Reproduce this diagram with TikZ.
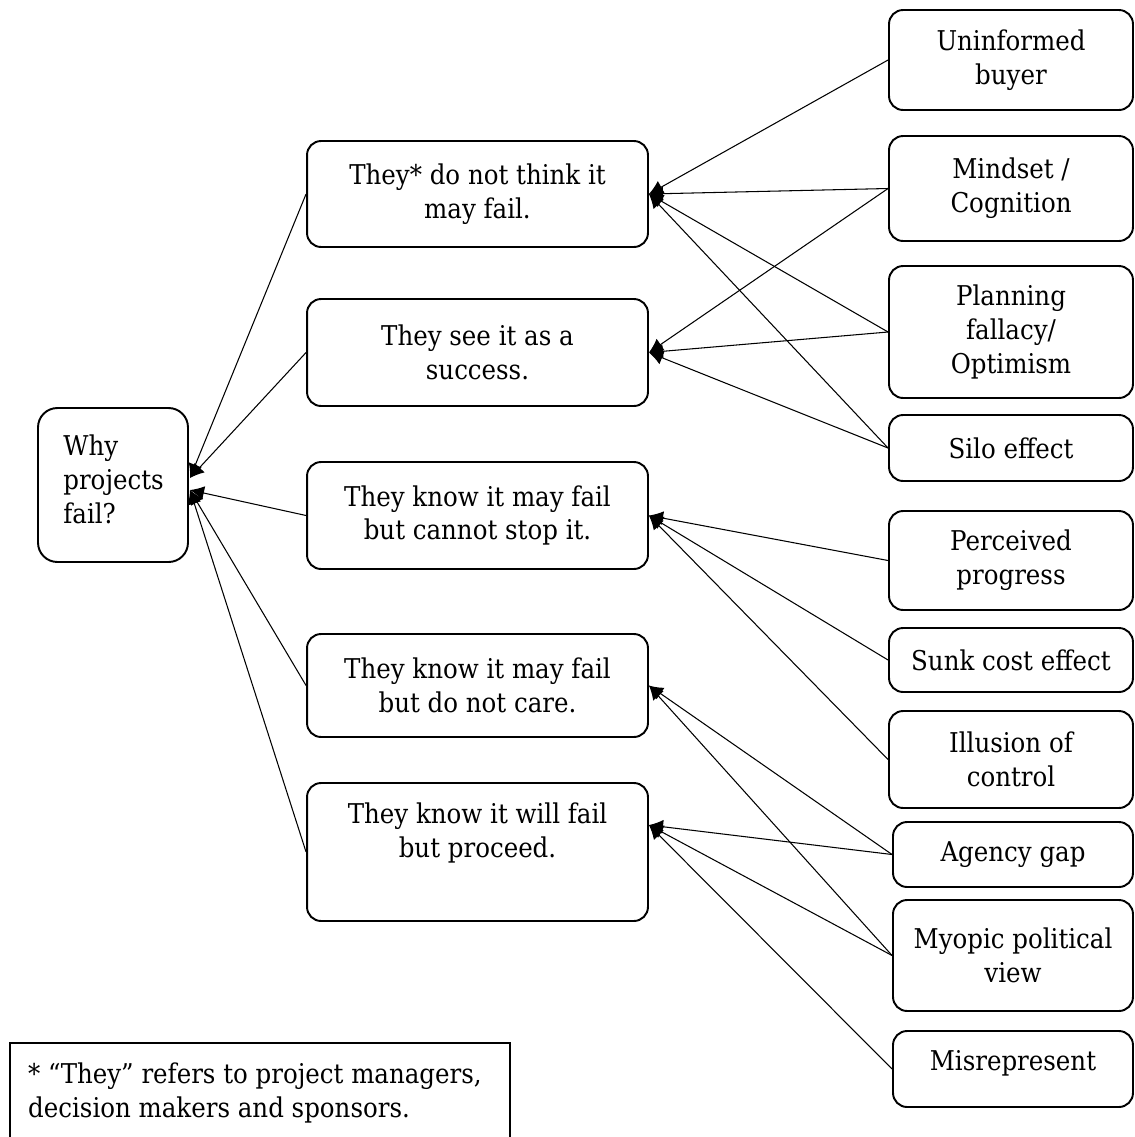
\documentclass[tikz,border=0pt]{standalone}
\usepackage{fontspec}
\setmainfont{DejaVu Serif Condensed}
\usetikzlibrary{arrows.meta,calc}
\begin{document}
\begin{tikzpicture}[x=0.02cm,y=-0.02cm,
  txt/.style={font=\fontsize{15.5pt}{19.3pt}\selectfont, align=center},
  box/.style={txt, draw, line width=1.1pt, rounded corners=8pt, inner sep=0pt},
  mid/.style={box, minimum width=6.82cm},
  cause/.style={box, minimum width=4.88cm},
  causelow/.style={box, minimum width=4.8cm},
  link/.style={line width=0.6pt},
  arr/.style={link, -{Latex[length=8pt,width=8pt]}}]
\useasboundingbox (0,0) rectangle (1135,1137);
\clip (0,0) rectangle (1135,1137);

% root question
\node[box, minimum width=3cm, minimum height=3.08cm, rounded corners=11pt] (why) at (113,485) {};
\node[txt, text width=2cm, align=left, anchor=west, inner sep=0pt] (whytext) at (63,479) {Why\\projects\\fail?};

% middle level: the five reasons
\node[mid, minimum height=2.12cm] (a) at (477.5,194) {They* do not think it\\may fail.};
\node[mid, minimum height=2.14cm] (b) at (477.5,352.5) {They see it as a\\success.};
\node[mid, minimum height=2.14cm] (c) at (477.5,515.5) {They know it may fail\\but cannot stop it.};
\node[mid, minimum height=2.06cm] (d) at (477.5,685.5) {They know it may fail\\but do not care.};
\node[mid, minimum height=2.76cm] (e) at (477.5,852) {};
\node[txt] (etext) at ($(e.north)+(0,51)$) {They know it will fail\\but proceed.};

% right column: underlying causes
\node[cause, minimum height=2.0cm]  (u)  at (1011,60)    {Uninformed\\buyer};
\node[cause, minimum height=2.1cm]  (m)  at (1011,188.5) {Mindset /\\Cognition};
\node[cause, minimum height=2.64cm] (p)  at (1011,332)   {Planning\\fallacy/\\Optimism};
\node[cause, minimum height=1.32cm] (s)  at (1011,448)   {Silo effect};
\node[cause, minimum height=1.98cm] (pp) at (1011,560.5) {Perceived\\progress};
\node[cause, minimum height=1.28cm] (sc) at (1011,660)   {Sunk cost effect};
\node[cause, minimum height=1.94cm] (ic) at (1011,759.5) {Illusion of\\control};
\node[causelow, minimum height=1.3cm]  (ag) at (1013,854.5) {Agency gap};
\node[causelow, minimum height=2.22cm] (my) at (1013,955.5) {Myopic political\\view};
\node[causelow, minimum height=1.52cm] (mr) at (1013,1069)  {};
\node[txt] (mrtext) at (1013,1063) {Misrepresent};

% reasons feed the root question
\coordinate (whyup)  at ($(why.east)+(1,-7)$);
\coordinate (whylow) at ($(why.east)+(1,5)$);
\draw[arr] (a.west) -- (whyup);
\draw[arr] (b.west) -- (whyup);
\draw[arr] (c.west) -- (whylow);
\draw[arr] (d.west) -- (whylow);
\draw[arr] (e.west) -- (whylow);

% causes feed the reasons
\coordinate (ein) at ($(e.north east)+(0,43)$);
\foreach \s in {u,m,p,s} \draw[arr] (\s.west) -- (a.east);
\foreach \s in {m,p,s} \draw[arr] (\s.west) -- (b.east);
\foreach \s in {pp,sc,ic} \draw[arr] (\s.west) -- (c.east);
\foreach \s in {ag,my} \draw[arr] (\s.west) -- (d.east);
\foreach \s in {ag,my,mr} \draw[arr] (\s.west) -- (ein);

% footnote
\draw[line width=1.1pt] (10,1160) |- (510,1043) -- (510,1160);
\node[txt, align=left, anchor=west] (note) at (22,1093)
  {* “They” refers to project managers,\\decision makers and sponsors.};
\end{tikzpicture}
\end{document}
